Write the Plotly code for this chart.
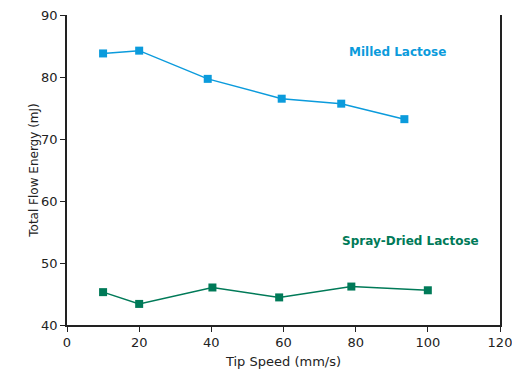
import plotly.graph_objects as go

tip_speed_milled = [10, 20, 39, 59.5, 76, 93.5]
energy_milled = [83.8, 84.25, 79.7, 76.5, 75.7, 73.2]
tip_speed_spray = [10, 20, 40.3, 58.8, 78.8, 100]
energy_spray = [45.3, 43.4, 46.05, 44.45, 46.2, 45.6]

blue = "#0b9bdc"
green = "#007a58"
font = "DejaVu Sans, sans-serif"

fig = go.Figure()
fig.add_trace(go.Scatter(x=tip_speed_milled, y=energy_milled, mode="lines+markers",
                         line=dict(color=blue, width=1.5),
                         marker=dict(symbol="square", size=8, color=blue),
                         cliponaxis=False))
fig.add_trace(go.Scatter(x=tip_speed_spray, y=energy_spray, mode="lines+markers",
                         line=dict(color=green, width=1.5),
                         marker=dict(symbol="square", size=8, color=green),
                         cliponaxis=False))

fig.add_annotation(x=91.7, y=84.0, text="<b>Milled Lactose</b>", showarrow=False,
                   font=dict(color=blue, size=12, family=font))
fig.add_annotation(x=95.3, y=53.55, text="<b>Spray-Dried Lactose</b>", showarrow=False,
                   font=dict(color=green, size=12, family=font))

fig.update_layout(
    width=512, height=371,
    margin=dict(l=67, r=12, t=15, b=46, autoexpand=False),
    paper_bgcolor="white", plot_bgcolor="white",
    showlegend=False,
    font=dict(family=font, color="#222222", size=13),
    xaxis=dict(range=[0, 120], tickvals=[0, 20, 40, 60, 80, 100, 120],
               showline=True, linecolor="#222222", linewidth=1.5,
               ticks="outside", ticklen=5, tickcolor="#222222",
               ticklabeloverflow="allow",
               showgrid=False, zeroline=False, automargin=False,
               title=dict(text="Tip Speed (mm/s)", font=dict(size=13), standoff=8)),
    yaxis=dict(range=[40, 90], tickvals=[40, 50, 60, 70, 80, 90],
               showline=True, linecolor="#222222", linewidth=1.5, mirror=True,
               ticks="outside", ticklen=5, tickcolor="#222222",
               ticklabeloverflow="allow",
               showgrid=False, zeroline=False, automargin=False,
               title=dict(text="Total Flow Energy (mJ)", font=dict(size=12), standoff=0)),
)

fig.write_html("out.html", config={"displayModeBar": False},
               post_script="document.body.style.margin='0px';document.body.style.overflow='hidden';")
